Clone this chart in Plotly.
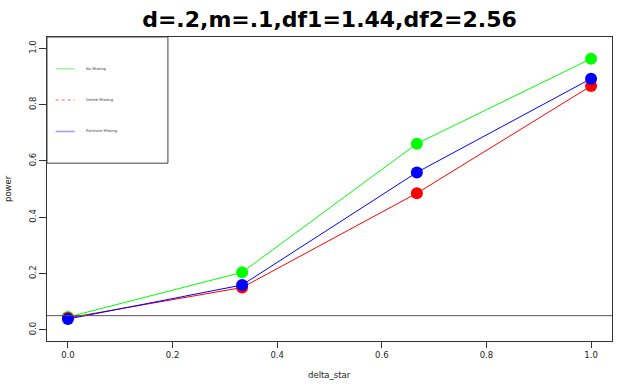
import plotly.graph_objects as go

# data
delta_star = [0.0, 0.333, 0.667, 1.0]
no_missing = [0.045, 0.204, 0.661, 0.963]
delete_missing = [0.042, 0.150, 0.485, 0.866]
estimate_missing = [0.038, 0.159, 0.559, 0.892]
alpha_level = 0.05

x_ticks = [0.0, 0.2, 0.4, 0.6, 0.8, 1.0]
y_ticks = [0.0, 0.2, 0.4, 0.6, 0.8, 1.0]

series = [
    ("No Missing", no_missing, "#00ff00", "#a0f5a0", "solid"),
    ("Delete Missing", delete_missing, "#ff0000", "#ff9090", "dash"),
    ("Estimate Missing", estimate_missing, "#0000ff", "#a0a0ff", "solid"),
]

FONT = "DejaVu Sans"
AX = "#333333"

fig = go.Figure()
for name, vals, col, _, dash in series:
    fig.add_trace(go.Scatter(
        x=delta_star, y=vals, name=name,
        mode="lines+markers",
        line=dict(color=col, width=1),
        marker=dict(color=col, size=12),
        showlegend=False,
    ))

# abline at the nominal alpha
fig.add_shape(type="line", xref="paper", yref="y", x0=0, x1=1,
              y0=alpha_level, y1=alpha_level,
              line=dict(color="#555555", width=1))

# hand-drawn legend box in the top-left corner, like base R
fig.add_shape(type="rect", xref="paper", yref="paper",
              x0=0, x1=0.214, y0=0.585, y1=1,
              line=dict(color="#444444", width=1), fillcolor="white")
leg_y = [0.8956, 0.7926, 0.6892]
for (name, vals, col, light, dash), yy in zip(series, leg_y):
    fig.add_shape(type="line", xref="paper", yref="paper",
                  x0=0.0154, x1=0.049, y0=yy, y1=yy,
                  line=dict(color=light, width=1.6,
                            dash="dot" if dash == "dash" else "solid"))
    fig.add_annotation(x=0.065, y=yy, xref="paper", yref="paper",
                       text=name, showarrow=False, xanchor="left", yanchor="middle",
                       font=dict(family=FONT, size=3.7, color="#444444"))

# axis titles
fig.add_annotation(x=0.5, y=0, xref="paper", yref="paper", yshift=-34,
                   text="delta_star", showarrow=False, yanchor="middle",
                   font=dict(family=FONT, size=8.5, color="#222222"))
fig.add_annotation(x=0, y=0.5, xref="paper", yref="paper", xshift=-39,
                   text="power", showarrow=False, textangle=-90, xanchor="center",
                   font=dict(family=FONT, size=8.5, color="#222222"))

fig.update_layout(
    width=637, height=388,
    margin=dict(l=47, r=25, t=37, b=47),
    paper_bgcolor="white", plot_bgcolor="white",
    font=dict(family=FONT, color="#222222"),
    title=dict(text="<b>d=.2,m=.1,df1=1.44,df2=2.56</b>",
               x=0.5, xref="paper", xanchor="center",
               y=0.951, yref="container", yanchor="middle",
               font=dict(family=FONT, size=22, color="black")),
)
fig.update_xaxes(range=[-0.04, 1.04], tickvals=x_ticks,
                 ticktext=[f"{v:.1f}" for v in x_ticks],
                 showgrid=False, zeroline=False,
                 showline=True, linecolor=AX, linewidth=1, mirror=True,
                 ticks="outside", ticklen=6, tickcolor=AX,
                 tickfont=dict(family=FONT, size=8.5, color="#222222"))
fig.update_yaxes(range=[-0.04, 1.04], tickvals=y_ticks,
                 ticktext=[f"{v:.1f}" for v in y_ticks],
                 showgrid=False, zeroline=False,
                 showline=True, linecolor=AX, linewidth=1, mirror=True,
                 ticks="outside", ticklen=7, tickcolor=AX, tickangle=-90,
                 tickfont=dict(family=FONT, size=8.5, color="#222222"))

# drop the browser's default body margin so the figure sits at the page origin
fig.write_html("out.html", config={"displayModeBar": False},
               post_script="document.body.style.margin='0px';")
